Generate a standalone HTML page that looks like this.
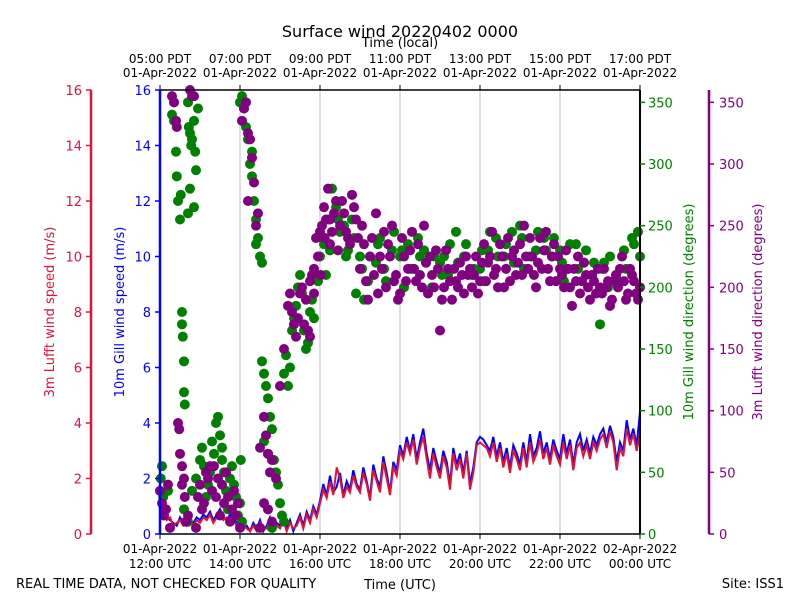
<!DOCTYPE html>
<html><head><meta charset="utf-8"><style>
body{margin:0;background:#fff}
svg{display:block;font-family:"DejaVu Sans","Liberation Sans",sans-serif}
</style></head><body>
<svg id="c" width="800" height="600" viewBox="0 0 800 600" xmlns="http://www.w3.org/2000/svg">
<text x="400" y="37" font-size="16" text-anchor="middle">Surface wind 20220402 0000</text>
<text x="400" y="47" font-size="13" text-anchor="middle">Time (local)</text>
<text x="400" y="589" font-size="13" text-anchor="middle">Time (UTC)</text>
<text x="16" y="588" font-size="13">REAL TIME DATA, NOT CHECKED FOR QUALITY</text>
<text x="784" y="588" font-size="13" text-anchor="end">Site: ISS1</text>
<g id="grid"></g><g id="lines"></g><g id="dots"></g><g id="axes"></g>
</svg>
<script>
const localTicks=["05:00 PDT","07:00 PDT","09:00 PDT","11:00 PDT","13:00 PDT","15:00 PDT","17:00 PDT"];
const utcTicks=["12:00 UTC","14:00 UTC","16:00 UTC","18:00 UTC","20:00 UTC","22:00 UTC","00:00 UTC"];
const dateTicks=["01-Apr-2022","01-Apr-2022","01-Apr-2022","01-Apr-2022","01-Apr-2022","01-Apr-2022","02-Apr-2022"];
const localDateTicks=["01-Apr-2022","01-Apr-2022","01-Apr-2022","01-Apr-2022","01-Apr-2022","01-Apr-2022","01-Apr-2022"];
const speedTicks=[0,2,4,6,8,10,12,14,16];
const dirTicks=[0,50,100,150,200,250,300,350];
const gillSpeed=[1.0,0.8,0.6,0.5,0.4,0.3,0.6,0.4,0.3,0.5,0.4,0.6,
0.5,0.7,0.6,0.8,0.5,0.7,0.9,0.6,0.5,0.7,0.6,0.4,
0.5,0.2,0.3,0.1,0.4,0.2,0.5,0.1,0.3,0.6,0.2,0.4,
0.3,0.6,0.2,0.5,0.1,0.4,0.7,0.3,0.8,0.5,1.0,0.7,
1.2,1.8,1.4,2.1,1.5,1.7,2.2,1.4,1.9,1.6,2.3,1.8,
1.6,2.4,1.9,1.3,2.5,2.0,1.7,2.8,2.2,1.5,2.6,2.3,
3.2,2.8,3.5,3.0,3.6,2.7,3.3,3.8,2.9,2.3,3.1,2.6,
2.2,3.0,2.6,1.8,3.1,2.5,2.9,2.2,3.0,1.8,2.4,3.3,
3.5,3.4,3.2,3.0,3.5,2.8,3.3,2.6,3.1,2.4,3.2,2.9,
2.5,3.3,2.6,3.6,2.8,3.1,3.7,2.9,3.3,2.7,3.4,3.0,
2.7,3.6,2.9,3.4,2.5,3.3,3.6,3.0,3.4,2.9,3.5,3.2,
3.6,3.8,3.3,3.9,3.5,2.6,3.3,3.0,4.1,3.4,3.8,3.2,4.4];
const lufftSpeed=[0.9,0.7,0.5,0.6,0.3,0.4,0.5,0.3,0.4,0.6,0.3,0.5,
0.4,0.6,0.5,0.7,0.4,0.6,0.8,0.5,0.6,0.6,0.5,0.3,
0.4,0.3,0.2,0.1,0.3,0.1,0.4,0.2,0.2,0.5,0.1,0.3,
0.2,0.5,0.1,0.4,0.2,0.3,0.6,0.2,0.7,0.4,0.9,0.6,
1.1,1.6,1.3,1.9,1.4,2.4,2.0,1.3,1.7,1.5,2.1,1.7,
1.5,2.2,1.8,1.2,2.3,1.9,1.5,2.6,2.0,1.4,2.4,2.1,
3.0,2.7,3.3,2.9,3.4,2.5,3.1,3.5,2.7,2.0,2.9,2.4,
2.0,2.8,2.4,1.6,2.9,2.3,2.7,2.0,2.9,1.6,2.2,3.2,
3.3,3.2,3.1,2.8,3.3,2.6,3.1,2.4,2.9,2.2,3.0,2.7,
2.3,3.1,2.4,3.3,2.6,2.9,3.4,2.7,3.1,2.5,3.2,2.8,
2.5,3.3,2.7,3.2,2.3,3.1,3.3,2.8,3.2,2.7,3.3,3.0,
3.4,3.6,3.1,3.7,3.3,2.3,3.1,2.8,3.8,3.2,3.6,3.0,3.6];
const gillDirHours=[0.02,0.05,0.08,0.2,0.3,0.35,0.4,0.42,0.45,0.5,0.52,0.55,0.55,0.57,0.6,0.6,0.62,0.7,0.72,0.75,0.78,0.8,0.85,0.88,0.9,0.95,0.7,0.75,0.85,
0.6,0.7,0.8,0.9,1.0,1.05,1.1,1.15,1.2,1.3,1.35,1.4,1.45,1.5,1.55,1.6,1.65,1.7,1.75,1.8,1.9,1.95,2.0,2.05,
2.0,2.05,2.1,2.15,2.2,2.25,2.3,2.35,2.4,2.45,2.5,2.55,2.3,2.4,
2.55,2.6,2.65,2.7,2.75,2.8,2.85,2.9,2.95,2.6,2.7,3.0,3.05,3.1,2.8,
3.1,3.15,3.2,3.25,3.3,3.35,3.4,3.45,3.5,3.55,3.6,3.65,3.7,3.75,3.8,3.85,3.9,3.95,4.0,4.05,4.1,4.15,4.2,4.3,4.4,4.5,4.6,4.7,4.8,4.9,5.0,5.2,5.4,5.5,5.6,5.8,6.0,6.2,6.3,6.5,6.6,6.8,7.0,7.2,7.4,7.6,7.8,8.0,8.2,8.4,8.6,8.8,9.0,9.2,9.4,9.6,9.8,10.0,10.2,10.4,10.6,10.8,11.0,11.2,11.4,11.6,11.8,12.0,5.1,6.1,7.1,8.1,9.1,10.1,11.1,
4.25,4.45,4.65,4.85,5.05,5.25,5.45,5.65,5.85,6.05,6.25,6.45,6.65,6.85,7.05,7.25,7.45,7.65,7.85,8.05,8.25,8.45,8.65,8.85,9.05,9.25,9.45,9.65,9.85,10.05,10.25,10.45,10.65,10.85,11.05,11.25,11.45,11.65,11.85,11.95,1.25,1.55,1.85,2.02];
const gillDirDeg=[45,55,30,35,340,335,310,290,270,255,275,180,170,160,140,115,105,350,330,325,315,320,335,310,295,345,260,280,265,
20,10,35,45,60,70,55,30,40,75,65,90,95,80,60,50,35,20,45,55,30,15,25,10,
350,355,345,330,320,300,290,270,255,240,225,220,310,235,
140,130,120,110,95,85,60,50,40,75,65,25,15,10,5,
130,145,120,135,165,175,185,200,210,195,165,150,155,180,190,175,210,205,225,240,235,210,255,280,265,245,250,230,255,195,225,205,220,240,215,230,225,235,215,225,230,200,220,210,245,225,210,215,230,240,225,245,250,215,230,240,225,230,215,235,220,210,170,200,210,230,240,225,190,200,225,205,215,205,220,
230,255,225,240,215,225,235,205,245,230,215,240,220,225,210,235,220,235,215,230,245,225,235,220,240,225,245,230,240,220,235,215,230,220,215,225,205,215,235,245,50,70,40,60];
const lufftDirHours=[0.0,0.05,0.1,0.15,0.2,0.25,0.3,0.35,0.4,0.42,0.45,0.48,0.5,0.55,0.6,0.65,0.7,0.75,0.8,0.85,0.9,1.0,1.1,1.15,1.2,1.3,1.35,1.4,1.5,1.6,1.7,1.75,1.8,1.9,2.0,2.05,2.1,2.15,2.2,2.25,2.3,2.35,2.4,2.2,2.45,2.5,2.6,2.7,2.8,2.5,2.6,2.65,2.7,2.75,2.8,2.9,3.0,3.1,3.2,3.25,3.3,3.35,3.4,3.45,3.5,3.55,3.6,3.65,3.7,3.75,3.8,3.85,3.9,3.95,4.0,4.05,4.1,4.15,4.2,4.25,4.3,4.4,4.5,4.6,4.7,4.8,4.9,5.0,5.1,5.2,5.3,5.4,5.5,5.6,5.7,5.8,5.9,6.0,6.1,6.2,6.3,6.4,6.5,6.6,6.7,6.8,6.9,7.0,7.1,7.2,7.3,7.4,7.5,7.6,7.7,7.8,7.9,8.0,8.1,8.2,8.3,8.4,8.5,8.6,8.7,8.8,8.9,9.0,9.1,9.2,9.3,9.4,9.5,9.6,9.7,9.8,9.9,10.0,10.1,10.2,10.3,10.4,10.5,10.6,10.7,10.8,10.9,11.0,11.1,11.2,11.3,11.4,11.5,11.6,11.7,11.8,11.9,12.0,
4.25,4.35,4.45,4.55,4.65,4.75,4.85,4.95,5.05,5.15,5.25,5.35,5.45,5.55,5.65,5.75,5.85,5.95,6.05,6.15,6.25,6.35,6.45,6.55,6.65,6.75,6.85,6.95,7.05,7.15,7.25,7.35,7.45,7.55,7.65,7.75,7.85,7.95,8.05,8.15,8.25,8.35,8.45,8.55,8.65,8.75,8.85,8.95,9.05,9.15,9.25,9.35,9.45,9.55,9.65,9.75,9.85,9.95,10.05,10.15,10.25,10.35,10.45,10.55,10.65,10.75,10.85,10.95,11.05,11.15,11.25,11.35,11.45,11.55,11.65,11.75,11.85,11.95,0.95,1.05,1.25,1.45,1.55,1.65,1.85,1.95,0.55,0.62,3.85,3.75,4.02,4.12];
const lufftDirDeg=[35,25,15,20,40,5,355,350,335,330,90,85,65,55,45,10,15,360,355,355,5,40,25,50,45,35,55,30,15,25,30,10,20,15,5,335,345,350,325,320,305,285,250,270,260,5,25,20,10,70,95,80,65,50,60,45,120,150,185,195,180,170,160,175,195,200,170,190,165,160,210,215,240,225,245,250,265,255,280,255,245,270,250,260,240,275,255,215,235,190,240,260,225,245,235,250,210,195,225,215,245,205,210,250,195,210,230,165,200,215,190,205,220,195,210,200,225,205,235,220,245,215,235,200,240,225,210,235,250,215,225,200,240,230,215,225,205,215,200,215,185,205,195,220,200,210,195,200,215,205,190,210,215,205,195,210,195,200,
235,260,230,270,245,235,265,240,250,205,225,210,195,215,200,225,205,190,240,205,230,215,235,200,220,225,200,215,190,230,205,215,200,210,225,215,210,195,220,205,225,210,200,225,215,205,230,220,210,225,240,210,220,215,245,205,235,225,210,230,200,215,225,205,210,190,205,215,195,200,185,205,200,225,190,215,205,190,30,20,55,45,40,50,35,25,40,30,195,205,210,240];

const NS="http://www.w3.org/2000/svg";
const L=160,R=640,T=90,B=534;
const xS=h=>L+(R-L)*h/12;
const ySpd=v=>B-(B-T)*v/16;
const yDir=d=>B-(B-T)*d/360;
function mk(parent,tag,attrs,text){const e=document.createElementNS(NS,tag);for(const k in attrs)e.setAttribute(k,attrs[k]);if(text!==undefined)e.textContent=text;document.getElementById(parent).appendChild(e);return e;}

for(let i=1;i<6;i++){const g=mk('grid','line',{x1:xS(i*2),x2:xS(i*2),y1:T,y2:B,stroke:'#b0b0b0','stroke-width':0.8});

}

function pathFor(arr){return arr.map((v,i)=>(i?'L':'M')+xS(i/12).toFixed(1)+' '+ySpd(v).toFixed(1)).join(' ');}
const bl=mk('lines','path',{d:pathFor(gillSpeed),fill:'none',stroke:'#0000ff','stroke-width':2});


const rl=mk('lines','path',{d:pathFor(lufftSpeed),fill:'none',stroke:'#dc143c','stroke-width':2});



gillDirHours.forEach((h,i)=>{const c=mk('dots','circle',{cx:xS(h),cy:yDir(gillDirDeg[i]),r:5,fill:'#008000'});

});
lufftDirHours.forEach((h,i)=>{const c=mk('dots','circle',{cx:xS(h),cy:yDir(lufftDirDeg[i]),r:5,fill:'#800080'});

});

mk('axes','line',{x1:L,x2:R,y1:T,y2:T,stroke:'#000','stroke-width':1.5});
mk('axes','line',{x1:L,x2:R,y1:B,y2:B,stroke:'#000','stroke-width':1.5});
mk('axes','line',{x1:R,x2:R,y1:T,y2:B,stroke:'#000','stroke-width':2});
mk('axes','line',{x1:L,x2:L,y1:T,y2:B,stroke:'#0000ff','stroke-width':2.5});
mk('axes','line',{x1:91,x2:91,y1:T,y2:B,stroke:'#dc143c','stroke-width':2.5});
mk('axes','line',{x1:709,x2:709,y1:T,y2:B,stroke:'#800080','stroke-width':2.5});

for(let i=0;i<7;i++){const x=xS(i*2);
mk('axes','line',{x1:x,x2:x,y1:B,y2:B+5,stroke:'#000'});
mk('axes','line',{x1:x,x2:x,y1:T,y2:T-5,stroke:'#000'});
const a=mk('axes','text',{x:x,y:553,'font-size':12,'text-anchor':'middle'},dateTicks[i]);


const b=mk('axes','text',{x:x,y:568,'font-size':12,'text-anchor':'middle'},utcTicks[i]);


const c=mk('axes','text',{x:x,y:63,'font-size':12,'text-anchor':'middle'},localTicks[i]);


const d=mk('axes','text',{x:x,y:77,'font-size':12,'text-anchor':'middle'},localDateTicks[i]);

}

speedTicks.forEach(v=>{const y=ySpd(v);
mk('axes','line',{x1:91,x2:86,y1:y,y2:y,stroke:'#dc143c','stroke-width':1.5});
mk('axes','line',{x1:L,x2:L-5,y1:y,y2:y,stroke:'#0000ff','stroke-width':1.5});
const a=mk('axes','text',{x:82,y:y+5,'font-size':13,'text-anchor':'end',fill:'#dc143c'},v);


const b=mk('axes','text',{x:151,y:y+5,'font-size':13,'text-anchor':'end',fill:'#0000ff'},v);

});
dirTicks.forEach(v=>{const y=yDir(v);
mk('axes','line',{x1:R,x2:R+5,y1:y,y2:y,stroke:'#008000','stroke-width':1.5});
mk('axes','line',{x1:709,x2:714,y1:y,y2:y,stroke:'#800080','stroke-width':1.5});
const a=mk('axes','text',{x:648,y:y+5,'font-size':13,fill:'#008000'},v);


const b=mk('axes','text',{x:719,y:y+5,'font-size':13,fill:'#800080'},v);

});

const t1=mk('axes','text',{x:0,y:0,'font-size':13,'text-anchor':'middle',fill:'#dc143c',transform:'translate(54,312) rotate(-90)'},'3m Lufft wind speed (m/s)');


const t2=mk('axes','text',{x:0,y:0,'font-size':13,'text-anchor':'middle',fill:'#0000ff',transform:'translate(124,312) rotate(-90)'},'10m Gill wind speed (m/s)');


const t3=mk('axes','text',{x:0,y:0,'font-size':13,'text-anchor':'middle',fill:'#008000',transform:'translate(693,312) rotate(-90)'},'10m Gill wind direction (degrees)');


const t4=mk('axes','text',{x:0,y:0,'font-size':13,'text-anchor':'middle',fill:'#800080',transform:'translate(762,312) rotate(-90)'},'3m Lufft wind direction (degrees)');


</script>
</body></html>
